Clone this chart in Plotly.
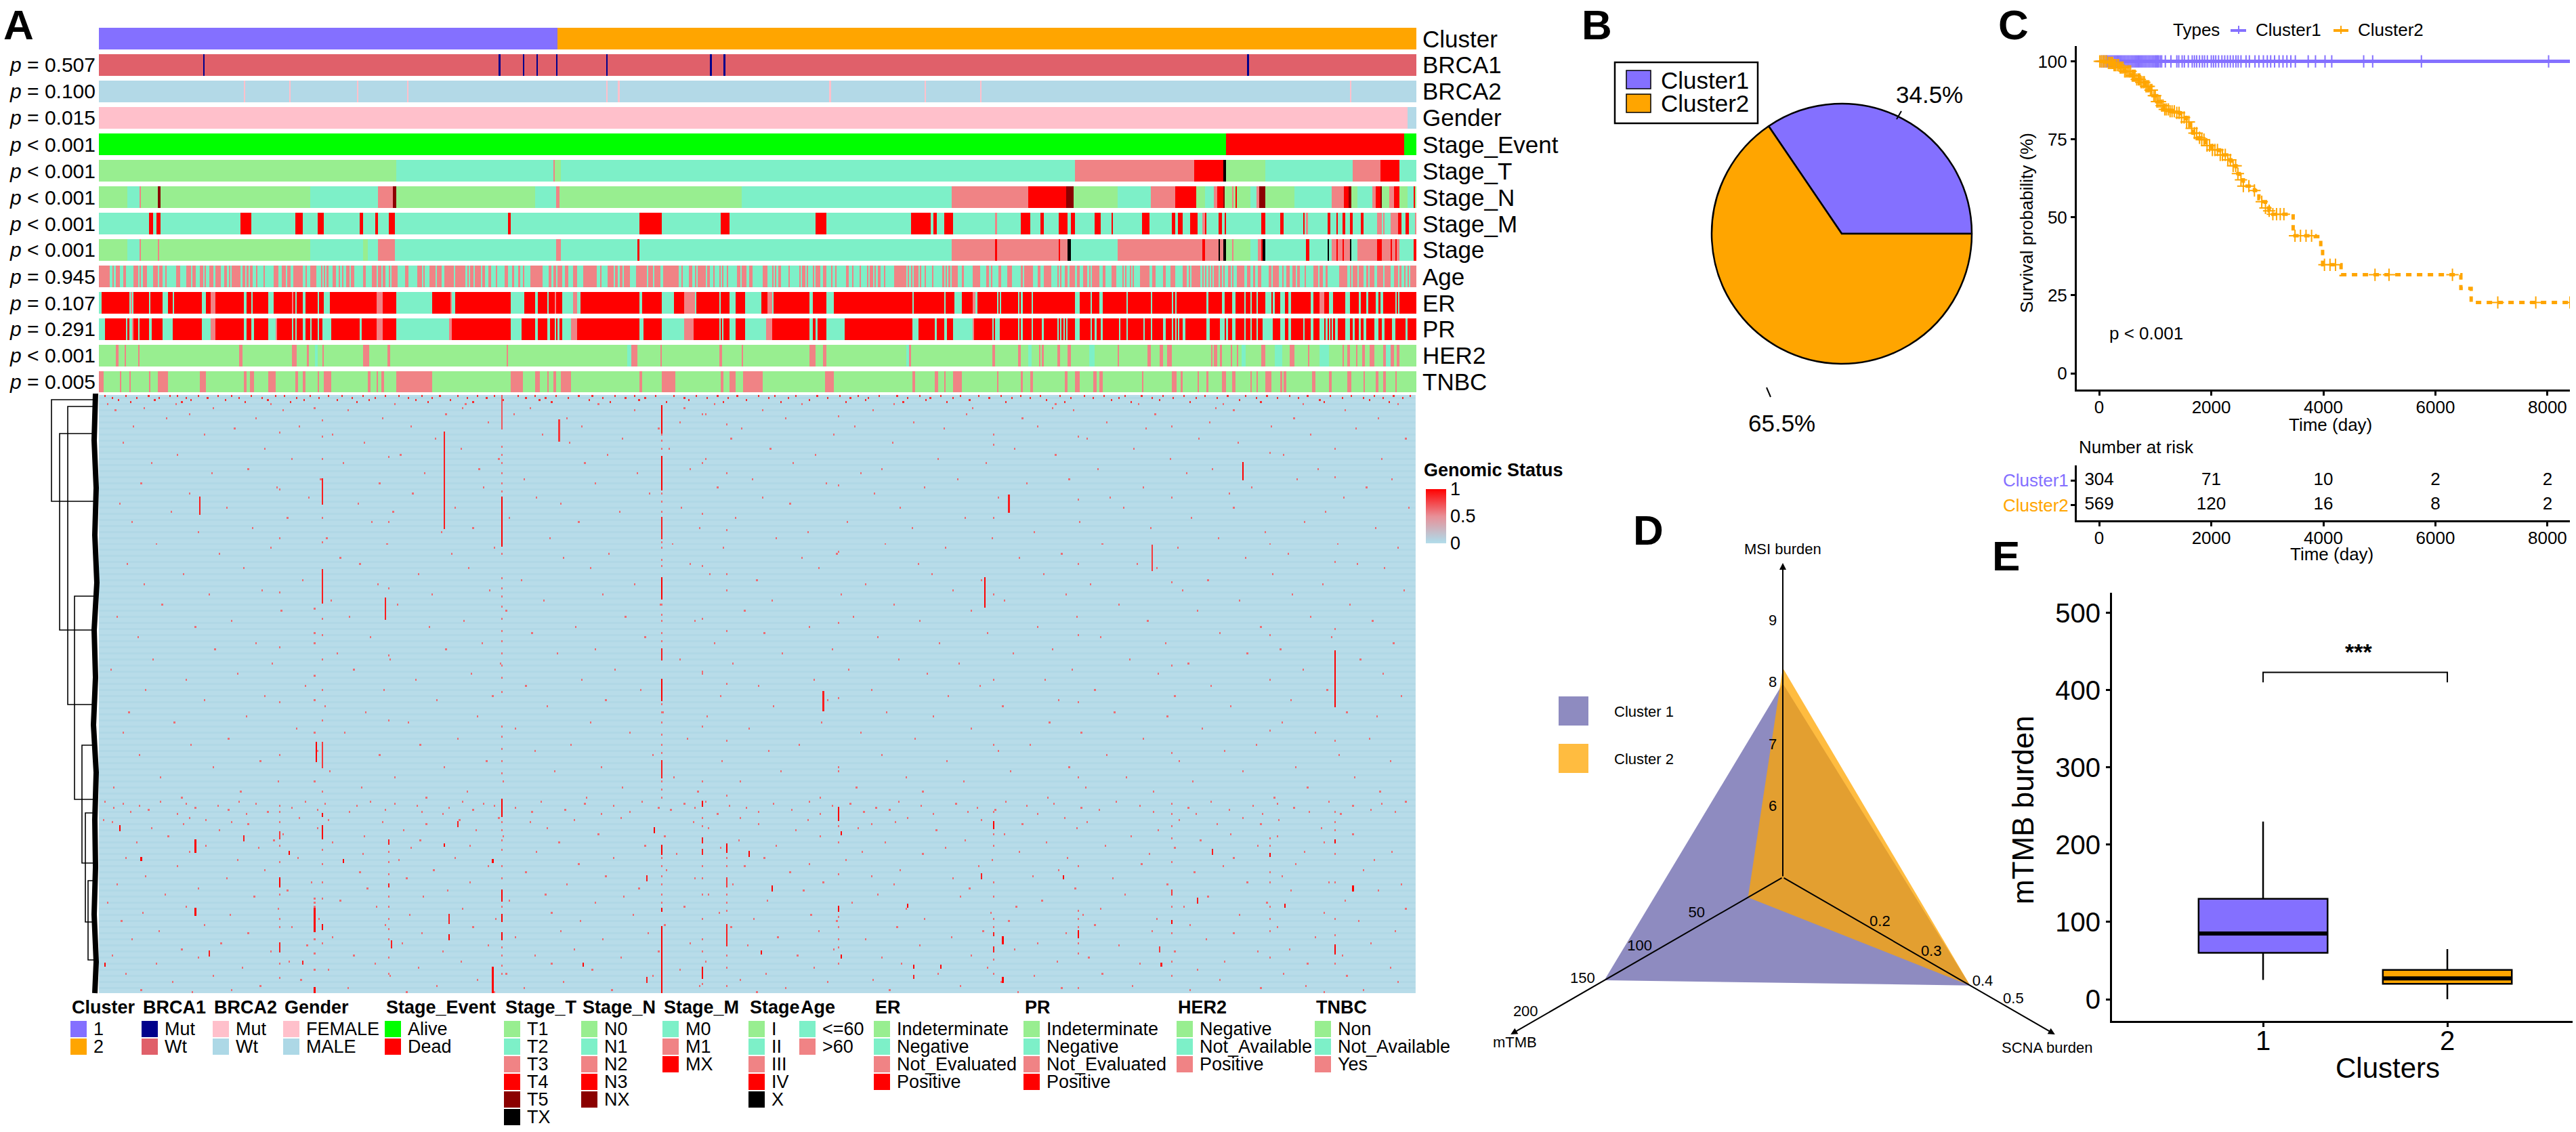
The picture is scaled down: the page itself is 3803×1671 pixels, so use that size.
import math
import numpy as np
import plotly.graph_objects as go

W, H = 3803, 1671
FONT = "Liberation Sans"
N_SAMPLES = 873
N_ROWS = 295
READ_PER_SAMPLE = 5835 / N_SAMPLES
CROP = 1470

GREEN, AQUA, CORAL, RED, DARK, BLACK = "#98EE90", "#7DF0C8", "#F08385", "#FF0000", "#8B0000", "#000000"
PURPLE, ORANGE = "#8470FF", "#FFA500"

# ---- annotation tracks (readings, four strips of the picture) ----
STAGE_T_RUNS = [
    [(0, 0, 1318), (1, 1318, 1470)],
    [(1, 0, 1470), (2, 548, 553), (0, 553, 573)],
    [(1, 0, 1387), (2, 1387, 1470)],
    [(2, 0, 448), (3, 448, 572), (5, 572, 584), (0, 584, 757), (1, 757, 1148), (2, 1148, 1267), (5, 1267, 1270), (3, 1270, 1352), (5, 1352, 1358), (1, 1358, 1425)],
]
STAGE_N_RUNS = [
    [(0, 0, 132), (1, 132, 186), (2, 186, 191), (0, 191, 266), (4, 266, 279), (0, 279, 936), (1, 936, 1238), (2, 1238, 1306), (4, 1306, 1318), (0, 1318, 1470)],
    [(0, 0, 462), (1, 462, 561), (2, 561, 573), (0, 573, 1384), (1, 1384, 1470)],
    [(1, 0, 842), (2, 842, 1182), (3, 1182, 1350), (4, 1350, 1380), (0, 1380, 1470)],
    [(0, 0, 107), (1, 107, 250), (2, 250, 356), (3, 356, 454), (0, 454, 490), (1, 490, 530), (2, 530, 545), (3, 545, 572), (4, 572, 578), (0, 578, 610), (2, 610, 620), (0, 620, 628), (3, 628, 633), (0, 633, 695), (1, 695, 720), (2, 720, 733), (4, 733, 757), (0, 757, 886), (1, 886, 1056), (2, 1056, 1110), (3, 1110, 1130), (4, 1130, 1141), (0, 1141, 1166), (1, 1166, 1235), (2, 1235, 1248), (3, 1248, 1265), (4, 1265, 1272), (0, 1272, 1308), (2, 1308, 1328), (3, 1328, 1358), (0, 1358, 1390), (1, 1390, 1412), (3, 1412, 1420), (0, 1420, 1425)],
]
STAGE_M_RUNS = [
    [(2, 222, 242), (2, 260, 273), (2, 632, 675), (2, 873, 903), (2, 972, 996), (2, 1158, 1170), (2, 1226, 1238), (2, 1288, 1312)],
    [(2, 343, 356), (2, 925, 1024), (2, 1290, 1327)],
    [(2, 235, 279), (2, 657, 743), (2, 761, 769), (2, 804, 840), (1, 1035, 1038), (2, 1146, 1182), (2, 1232, 1244), (2, 1317, 1349), (2, 1366, 1387)],
    [(2, 3, 27), (2, 78, 84), (2, 213, 244), (2, 343, 355), (2, 374, 387), (2, 423, 454), (1, 480, 486), (2, 491, 497), (2, 553, 560), (2, 578, 585), (2, 743, 758), (2, 826, 838), (2, 924, 930), (1, 942, 946), (2, 1034, 1042), (2, 1075, 1080), (2, 1103, 1110), (2, 1135, 1141), (2, 1179, 1191), (1, 1255, 1272), (1, 1278, 1284), (1, 1316, 1330), (1, 1335, 1345), (2, 1350, 1358), (2, 1383, 1390), (1, 1420, 1425)],
]
STAGE_RUNS = [
    [(0, 0, 132), (1, 132, 186), (2, 186, 191), (0, 191, 266), (2, 266, 272), (0, 272, 936), (1, 936, 1170), (0, 1170, 1196), (1, 1196, 1238), (2, 1238, 1311), (1, 1311, 1470)],
    [(1, 0, 1470), (2, 561, 573), (3, 918, 925)],
    [(1, 0, 842), (2, 842, 1352), (3, 1035, 1038), (3, 1313, 1317), (4, 1356, 1366), (1, 1366, 1470)],
    [(1, 0, 107), (2, 107, 553), (3, 480, 486), (4, 553, 560), (2, 560, 572), (4, 572, 584), (0, 584, 610), (2, 610, 620), (0, 620, 695), (1, 695, 725), (2, 725, 740), (3, 740, 745), (4, 745, 757), (1, 757, 1033), (3, 943, 949), (4, 1033, 1042), (1, 1042, 1056), (2, 1056, 1138), (3, 1075, 1080), (3, 1100, 1105), (4, 1135, 1141), (1, 1141, 1166), (2, 1166, 1355), (3, 1255, 1272), (3, 1314, 1320), (3, 1332, 1340), (4, 1352, 1358), (1, 1358, 1414), (3, 1414, 1425)],
]
AGE_OVER60 = [
    [(0, 50), (62, 70), (75, 93), (113, 122), (156, 174), (186, 190), (197, 204), (210, 216), (242, 260), (272, 278), (296, 303), (347, 359), (390, 408), (416, 426), (452, 458), (470, 476), (489, 507), (520, 530), (534, 544), (558, 570), (576, 582), (594, 630), (641, 648), (656, 662), (670, 680), (696, 700), (732, 736), (780, 786), (792, 798), (812, 830), (838, 848), (866, 902), (918, 922), (942, 960), (984, 990), (996, 1002), (1010, 1014), (1040, 1052), (1064, 1070), (1080, 1086), (1098, 1112), (1122, 1132), (1176, 1182), (1214, 1220), (1226, 1232), (1238, 1250), (1258, 1268), (1284, 1292), (1302, 1324), (1362, 1368), (1411, 1416), (1422, 1428), (1438, 1444)],
    [(0, 4), (8, 12), (16, 22), (30, 46), (66, 102), (108, 154), (162, 170), (180, 190), (198, 218), (234, 244), (258, 270), (288, 294), (332, 342), (362, 368), (392, 398), (412, 418), (444, 452), (458, 466), (474, 486), (490, 498), (524, 534), (548, 554), (562, 572), (580, 584), (600, 608), (630, 646), (678, 738), (752, 758), (788, 794), (802, 806), (816, 830), (840, 846), (856, 860), (866, 870), (876, 882), (912, 958), (968, 982), (990, 1016), (1032, 1040), (1046, 1074), (1080, 1096), (1110, 1116), (1150, 1154), (1174, 1180), (1188, 1214), (1230, 1234), (1256, 1260), (1278, 1284), (1292, 1298), (1312, 1320), (1358, 1372), (1384, 1390), (1396, 1400), (1415, 1425)],
    [(6, 12), (18, 22), (44, 50), (56, 62), (70, 80), (116, 122), (162, 170), (180, 186), (198, 204), (224, 228), (236, 242), (248, 254), (272, 280), (304, 310), (322, 328), (372, 384), (396, 402), (434, 438), (464, 470), (476, 490), (496, 500), (514, 524), (540, 544), (588, 594), (602, 606), (612, 620), (628, 634), (644, 650), (658, 664), (675, 692), (702, 706), (718, 722), (752, 756), (800, 804), (812, 816), (824, 828), (842, 860), (884, 890), (930, 966), (996, 1002), (1016, 1020), (1048, 1058), (1090, 1096), (1102, 1106), (1146, 1152), (1160, 1170), (1176, 1200), (1220, 1230), (1246, 1250), (1256, 1262), (1270, 1276), (1308, 1314), (1320, 1324), (1338, 1354), (1362, 1368), (1374, 1386), (1396, 1404), (1418, 1438), (1448, 1452), (1458, 1470)],
    [(4, 10), (14, 20), (40, 46), (78, 96), (122, 128), (138, 144), (156, 162), (170, 176), (208, 244), (258, 268), (306, 318), (336, 354), (394, 406), (418, 424), (432, 440), (448, 454), (462, 468), (478, 484), (490, 496), (504, 510), (518, 522), (536, 552), (560, 566), (574, 578), (594, 600), (610, 618), (634, 664), (678, 690), (706, 712), (728, 738), (772, 784), (796, 802), (808, 818), (832, 838), (856, 862), (882, 888), (898, 908), (932, 938), (976, 992), (1002, 1012), (1024, 1028), (1086, 1116), (1134, 1140), (1150, 1166), (1172, 1190), (1208, 1212), (1218, 1224), (1230, 1236), (1254, 1278), (1290, 1296), (1304, 1314), (1330, 1336), (1342, 1348), (1356, 1360), (1372, 1378), (1386, 1392), (1404, 1410), (1418, 1425)],
]
ER_POSITIVE = [
    [(18, 93), (99, 135), (156, 174), (180, 222), (229, 266), (273, 279), (309, 327), (336, 452), (477, 495), (520, 644), (656, 675), (687, 749), (780, 856), (866, 872), (880, 903), (917, 941), (947, 961), (965, 972), (978, 996), (1028, 1196), (1201, 1231), (1263, 1318)],
    [(8, 84), (114, 356), (418, 462), (480, 516), (523, 546), (556, 579), (666, 870), (876, 925), (939, 1024), (1080, 1122), (1179, 1278), (1284, 1290), (1296, 1302), (1306, 1327), (1353, 1389)],
    [(0, 18), (50, 211), (222, 279), (316, 662), (675, 768), (774, 804), (810, 847), (885, 927), (954, 1038), (1044, 1050), (1060, 1132), (1140, 1146), (1152, 1189), (1199, 1343), (1350, 1387), (1405, 1449), (1460, 1470)],
    [(0, 4), (8, 22), (35, 145), (152, 213), (221, 249), (258, 342), (350, 356), (364, 386), (393, 454), (461, 498), (504, 528), (534, 565), (579, 609), (628, 664), (672, 690), (697, 714), (727, 757), (784, 790), (797, 826), (850, 856), (876, 888), (893, 957), (975, 1000), (1018, 1040), (1062, 1110), (1135, 1141), (1148, 1172), (1178, 1190), (1196, 1202), (1215, 1247), (1260, 1266), (1278, 1284), (1290, 1333), (1342, 1348), (1355, 1425)],
]
ER_NOT_EVALUATED = [
    [(143, 150), (495, 520), (856, 866), (1232, 1258)],
    [(84, 96), (546, 556), (630, 652), (870, 876), (1122, 1167)],
    [(18, 44), (927, 940)],
    [(1000, 1018)],
]
PR_POSITIVE = [
    [(31, 93), (99, 123), (129, 135), (156, 174), (186, 222), (236, 254), (260, 266), (272, 279), (329, 452), (520, 644), (656, 675), (693, 749), (792, 856), (866, 872), (880, 903), (917, 935), (947, 960), (965, 972), (978, 990), (1034, 1158), (1164, 1195), (1202, 1231), (1263, 1287), (1296, 1318)],
    [(96, 356), (406, 462), (480, 516), (529, 546), (556, 562), (570, 579), (654, 870), (876, 894), (900, 925), (945, 1024), (1167, 1278), (1284, 1290), (1303, 1327), (1353, 1389)],
    [(44, 211), (222, 234), (242, 279), (365, 662), (693, 762), (774, 804), (823, 842), (942, 1020), (1026, 1032), (1053, 1132), (1140, 1146), (1152, 1189), (1200, 1236), (1246, 1304), (1312, 1320), (1326, 1332), (1338, 1342), (1356, 1368), (1374, 1387), (1411, 1449), (1462, 1470)],
    [(14, 28), (35, 108), (120, 144), (152, 213), (225, 249), (258, 300), (318, 342), (350, 356), (364, 372), (380, 386), (405, 454), (461, 498), (510, 528), (534, 556), (578, 584), (590, 609), (628, 664), (672, 690), (697, 715), (727, 745), (792, 826), (850, 858), (876, 888), (893, 927), (933, 957), (975, 1000), (1018, 1024), (1032, 1036), (1046, 1054), (1062, 1066), (1080, 1110), (1135, 1141), (1153, 1172), (1184, 1190), (1208, 1240), (1260, 1272), (1290, 1320), (1338, 1350), (1356, 1380), (1388, 1425)],
]
PR_NOT_EVALUATED = [
    [(150, 154), (495, 520), (785, 792), (1232, 1258)],
    [(84, 96), (624, 654), (1124, 1167)],
    [(18, 44), (930, 942)],
    [],
]
HER2_RUNS = [
    [(2, 80, 87), (2, 117, 123), (2, 174, 180), (2, 626, 632), (2, 862, 873), (2, 924, 929), (1, 960, 972), (2, 990, 996), (2, 1176, 1194), (2, 1282, 1288)],
    [(2, 338, 342), (1, 870, 895), (2, 895, 917), (2, 1018, 1024), (2, 1278, 1290), (2, 1378, 1384)],
    [(2, 210, 234), (2, 272, 279), (1, 640, 650), (2, 650, 656), (2, 1021, 1032), (2, 1134, 1144), (1, 1180, 1190), (2, 1227, 1232), (2, 1238, 1243), (2, 1306, 1318), (2, 1356, 1367), (1, 1446, 1470)],
    [(2, 102, 107), (2, 238, 248), (2, 295, 300), (2, 323, 342), (2, 516, 522), (2, 534, 540), (2, 558, 566), (2, 604, 610), (2, 630, 636), (1, 650, 670), (2, 740, 757), (1, 800, 830), (2, 870, 882), (2, 945, 950), (1, 1000, 1035), (2, 1100, 1105), (2, 1122, 1128), (2, 1160, 1166), (2, 1190, 1196), (2, 1222, 1228), (2, 1234, 1240), (2, 1280, 1290), (1, 1295, 1312), (2, 1316, 1325), (2, 1342, 1350)],
]
TNBC_YES = [
    [(0, 18), (94, 100), (137, 143), (224, 230), (266, 272), (279, 309), (453, 477), (645, 657), (675, 687), (750, 780), (873, 879), (906, 914), (972, 979), (996, 1026), (1196, 1202), (1232, 1238), (1256, 1262), (1320, 1470)],
    [(0, 8), (356, 405), (462, 480), (517, 523), (548, 554), (579, 621), (925, 937), (1025, 1086), (1290, 1296), (1328, 1352), (1390, 1470)],
    [(279, 315), (663, 675), (768, 774), (804, 810), (848, 885), (1040, 1046), (1146, 1152), (1188, 1194), (1344, 1350), (1387, 1404)],
    [(0, 6), (28, 34), (212, 218), (344, 350), (354, 360), (386, 392), (458, 462), (498, 504), (568, 580), (610, 620), (690, 696), (720, 726), (758, 782), (826, 832), (840, 850), (964, 975), (1044, 1050), (1118, 1124), (1130, 1136), (1192, 1198), (1250, 1260), (1284, 1290), (1334, 1340)],
]
BRCA1_MUT_SAMPLES = [69, 265, 281, 290, 303, 336, 405, 414, 761]
BRCA2_MUT_SAMPLES = [96, 126, 171, 204, 336, 344, 484, 547, 584, 829]
CLUSTER_SPLIT = 304
EVENT_DEAD = (747, 865)
GENDER_MALE_FROM = 867

P_LABELS = ["", "= 0.507", "= 0.100", "= 0.015", "&lt; 0.001", "&lt; 0.001", "&lt; 0.001", "&lt; 0.001", "&lt; 0.001",
            "= 0.945", "= 0.107", "= 0.291", "&lt; 0.001", "= 0.005"]
TRACK_NAMES = ["Cluster", "BRCA1", "BRCA2", "Gender", "Stage_Event", "Stage_T", "Stage_N", "Stage_M", "Stage",
               "Age", "ER", "PR", "HER2", "TNBC"]

# ---- genomic heatmap: (column, first row, last row, value) ----
STREAKS = [
    (373, 5, 18, 1), (373, 30, 46, 1), (373, 60, 70, .9), (373, 90, 100, 1), (373, 125, 130, .9), (373, 140, 150, 1), (373, 180, 188, .9),
    (373, 222, 226, 1), (373, 253, 254, 1), (373, 262, 295, 1),
    (267, 0, 16, .7), (267, 50, 74, 1), (267, 199, 207, 1), (267, 244, 249, 1), (267, 256, 259, 1), (267, 265, 268, 1),
    (229, 18, 65, .9), (148, 41, 53, .9), (148, 86, 102, .9), (148, 171, 183, .8), (148, 206, 207, 1), (148, 212, 218, 1), (148, 261, 263, 1),
    (144, 171, 180, 1), (143, 253, 264, 1), (143, 292, 295, 1), (587, 90, 104, 1), (819, 126, 153, 1), (819, 219, 220, 1), (819, 271, 275, 1),
    (758, 33, 41, 1), (603, 49, 57, .9), (480, 146, 155, .9), (698, 74, 86, .8), (67, 50, 58, .9), (305, 12, 22, .8), (190, 100, 110, .9),
    (64, 219, 225, 1), (64, 253, 256, 1), (120, 238, 242, 1), (120, 270, 274, .9), (120, 215, 218, .8), (192, 219, 221, .9), (192, 241, 242, .9),
    (261, 282, 295, 1), (261, 229, 230, 1), (232, 256, 260, .9), (232, 266, 268, 1), (194, 269, 272, .9), (96, 217, 219, .9), (238, 210, 212, .9), (14, 212, 214, 1),
    (368, 213, 215, 1), (363, 237, 239, .9), (363, 287, 289, .9), (229, 221, 222, 1), (321, 280, 281, 1), (73, 274, 276, .9), (135, 279, 280, .9), (4, 280, 281, 1),
    (28, 228, 229, 1), (162, 229, 230, 1), (126, 225, 226, 1), (400, 282, 287, 1), (400, 200, 202, 1), (400, 224, 226, .9), (400, 218, 220, .9),
    (490, 203, 209, 1), (490, 252, 254, 1), (593, 210, 213, 1), (593, 265, 266, .9), (593, 272, 274, .9), (416, 221, 225, 1), (416, 261, 271, .9), (416, 238, 242, .8),
    (431, 225, 227, 1), (446, 242, 244, 1), (536, 251, 252, 1), (558, 281, 282, 1), (599, 267, 270, 1), (599, 287, 289, 1), (649, 264, 267, 1), (639, 237, 238, 1),
    (585, 236, 238, .9), (738, 224, 226, .9), (711, 259, 260, 1), (711, 244, 246, .8), (728, 248, 250, .9), (704, 280, 281, .9), (703, 272, 274, .8), (776, 226, 227, 1),
    (786, 251, 252, 1), (831, 242, 244, 1), (540, 281, 282, 1), (540, 286, 287, .9), (492, 215, 216, 1), (492, 276, 277, 1), (439, 274, 275, 1),
]
# faint columns: gene columns that are dashed with pale marks, (column, [rows])
FAINT_COLUMNS = {
    373: [19, 22, 26, 48, 52, 57, 72, 75, 81, 84, 103, 108, 111, 117, 121, 152, 156, 161, 167, 172, 176, 190, 194, 198, 228, 232, 237, 241, 246, 250],
    267: [25, 29, 33, 38, 43, 47, 78, 90, 95, 99, 104, 110, 116, 121, 127, 133, 139, 146, 163, 168, 174, 180, 186, 210, 214, 219, 224, 232, 238, 252, 272, 276, 281, 285],
    148: [12, 20, 31, 60, 72, 110, 118, 130, 145, 160, 195, 224, 231, 240, 248, 270],
    143: [105, 122, 138, 150, 166, 190, 248, 250, 252, 268, 275, 283],
    120: [18, 46, 70, 97, 124, 151, 177, 205, 210, 222, 230, 246, 258, 262, 280, 287],
    416: [14, 38, 66, 88, 116, 142, 170, 197, 228, 232, 246, 250, 254, 276, 282, 291],
    400: [9, 33, 58, 84, 110, 136, 163, 190, 208, 212, 232, 238, 246, 258, 268, 274, 290],
    192: [30, 62, 95, 128, 160, 225, 230, 236, 247, 252, 258, 263, 268, 277, 285],
    593: [24, 60, 98, 140, 172, 205, 216, 222, 240, 247, 258, 262, 278, 285],
    649: [20, 51, 83, 118, 151, 188, 232, 254, 258, 262, 270, 275, 292],
    490: [10, 44, 77, 112, 149, 185, 212, 220, 236, 257, 262, 268, 272, 280],
    711: [15, 50, 92, 133, 176, 206, 212, 218, 230, 252, 265, 279, 286],
    776: [28, 73, 118, 165, 218, 222, 235, 240, 252, 258, 264, 277],
    819: [40, 82, 115, 170, 205, 214, 226, 240, 258, 266, 280],
}
DOT_ROWS_TOP = {
    0: [4, 18, 33, 47, 52, 66, 79, 88, 101, 117, 123, 140, 152, 161, 175, 190, 199, 214, 226, 238, 251, 262, 278, 289, 303, 318, 327, 342, 355, 369, 381, 396, 410, 423, 437, 448, 462, 476, 491, 503, 517, 529, 544, 558, 571, 583, 598, 611, 624, 637, 653, 666, 680, 691, 705, 719, 733, 748, 760, 774, 789, 801, 816, 830, 845, 858, 869],
    1: [9, 25, 40, 58, 72, 93, 108, 131, 146, 168, 183, 205, 221, 244, 257, 283, 296, 311, 334, 349, 362, 388, 403, 417, 444, 457, 483, 498, 510, 536, 551, 566, 590, 605, 617, 644, 659, 676, 698, 712, 727, 741, 767, 781, 795, 824, 838, 851, 864],
    2: [13, 37, 61, 84, 112, 136, 158, 179, 210, 233, 268, 292, 325, 358, 391, 429, 471, 508, 548, 577, 628, 671, 703, 756, 809, 842],
    3: [21, 55, 97, 127, 171, 218, 248, 300, 339, 376, 414, 452, 495, 533, 562, 601, 640, 684, 723, 770, 812, 855],
}
DOT_ROWS = {
    4: [6, 51, 114, 196, 243, 331, 408, 466, 527, 634, 689, 745, 798, 861],
    6: [30, 76, 143, 241, 286, 388, 579, 632, 740],
    7: [11, 122, 165, 355, 440, 513, 646, 752, 826],
    9: [60, 230, 275, 402, 575, 700],
    11: [45, 104, 188, 310, 455, 612, 792, 848],
    13: [258, 385, 540, 668, 736],
    15: [23, 133, 207, 320, 501, 622, 777],
    16: [90, 371, 426, 560, 694, 833],
    19: [70, 155, 294, 487, 593, 803],
    21: [223, 347, 419, 655, 729, 866],
    23: [16, 176, 312, 526, 755],
    26: [110, 240, 378, 445, 607, 686, 819],
    29: [52, 200, 337, 475, 634, 785],
    31: [128, 265, 402, 556, 710, 850],
    33: [35, 162, 322, 460, 588],
    36: [99, 252, 392, 519, 662, 738, 808],
    38: [75, 216, 357, 505, 721],
    41: [147, 282, 433, 569, 643, 794, 857],
    43: [28, 186, 329, 482, 615],
    45: [118, 255, 410, 547, 692, 764, 840],
    48: [60, 208, 365, 514, 749],
    50: [139, 290, 440, 596, 670, 825],
    53: [14, 172, 306, 458, 603],
    55: [85, 236, 386, 531, 679, 752, 868],
    57: [48, 195, 345, 813],
    60: [125, 272, 422, 574, 724],
    62: [22, 181, 318, 496, 650, 799],
    65: [102, 248, 398, 539, 697, 846],
    67: [66, 227, 470, 620, 773],
    70: [151, 299, 449, 592, 742],
    73: [38, 191, 380, 521, 665, 821],
    75: [114, 262, 414, 561, 715, 861],
    78: [80, 234, 338, 489, 638, 788],
    80: [160, 308, 466, 610, 760],
    83: [19, 173, 392, 543, 688, 834],
    85: [96, 245, 326, 477, 701, 852],
    88: [56, 212, 405, 552, 626, 778],
    91: [135, 280, 436, 585, 735],
    93: [30, 185, 355, 508, 657, 811],
    96: [108, 259, 416, 566, 718, 865],
    98: [73, 221, 334, 492, 641, 791],
    101: [154, 295, 446, 600, 756],
    103: [42, 198, 372, 527, 676, 829],
    106: [121, 270, 428, 578, 728],
    109: [12, 166, 349, 500, 648, 803],
    111: [88, 242, 395, 544, 695, 844],
    114: [64, 219, 316, 471, 622, 770],
    117: [143, 287, 441, 589, 743],
    119: [26, 180, 362, 516, 664, 817],
    122: [104, 254, 408, 557, 707, 858],
    125: [77, 230, 329, 486, 632, 783],
    127: [158, 304, 453, 606, 761],
    130: [36, 193, 385, 530, 683, 836],
    132: [115, 266, 420, 570, 722],
    135: [8, 169, 342, 497, 645, 798],
    137: [92, 247, 400, 549, 702, 851],
    140: [58, 210, 320, 474, 627, 776],
    143: [137, 283, 437, 584, 737],
    145: [31, 189, 359, 512, 660, 814],
    148: [110, 261, 412, 563, 713, 863],
    150: [70, 224, 336, 483, 636, 790],
    153: [150, 297, 447, 599, 750],
    156: [20, 177, 374, 522, 673, 827],
    158: [98, 251, 403, 553, 708, 847],
    161: [50, 205, 326, 479, 630, 784],
    164: [131, 276, 431, 578, 731],
    166: [16, 163, 352, 505, 651, 806],
    169: [86, 238, 390, 541, 692, 842],
    172: [61, 213, 313, 464, 617, 767],
    175: [145, 289, 444, 596, 746],
    177: [27, 186, 367, 519, 668, 822],
    180: [107, 257, 413, 562, 716, 856],
    183: [76, 229, 333, 490, 643, 793],
    185: [153, 302, 452, 604, 758],
    188: [41, 196, 381, 535, 681, 832],
    190: [119, 268, 425, 573, 725],
    193: [10, 174, 347, 502, 654, 801],
    195: [94, 244, 397, 546, 699, 849],
    198: [55, 217, 323, 478, 629, 779],
    200: [4, 41, 93, 137, 180, 241, 293, 360, 402, 471, 530, 601, 674, 737, 815, 866],
    201: [16, 58, 104, 150, 196, 255, 322, 388, 447, 498, 568, 633, 711, 781, 850],
    202: [27, 79, 120, 171, 211, 262, 341, 418, 486, 545, 615, 690, 765, 831],
    203: [10, 64, 128, 232, 276, 371, 395, 429, 515, 582, 651, 722, 792],
    204: [33, 86, 145, 190, 248, 309, 379, 459, 524, 594, 663, 749, 843],
    205: [21, 112, 166, 214, 287, 352, 437, 507, 576, 699, 802, 859],
    206: [52, 98, 228, 333, 410, 478, 553, 622, 727, 771, 823],
    208: [60, 133, 265, 346, 425, 536, 640, 758],
    209: [3, 71, 152, 239, 315, 470, 585, 716, 782],
    210: [9, 88, 188, 286, 394, 528, 655, 819],
    211: [56, 99, 217, 437, 512, 612, 741, 770],
    213: [35, 145, 297, 404, 503, 648, 810],
    214: [80, 202, 250, 462, 555, 702],
    216: [122, 331, 600, 750, 831],
    217: [46, 176, 268, 375, 478, 684, 781],
    219: [116, 213, 424, 574, 730],
    220: [25, 155, 305, 521, 628, 812],
    222: [71, 246, 362, 449, 667, 768],
    223: [106, 207, 412, 561, 713],
    225: [60, 290, 506, 610, 799, 857],
    226: [175, 383, 546, 696],
    228: [18, 132, 236, 341, 441, 642, 752],
    229: [92, 199, 495, 592, 845],
    231: [148, 318, 471, 691, 793],
    232: [52, 258, 428, 583, 745],
    234: [110, 222, 376, 531, 636, 838],
    235: [173, 283, 458, 726],
    237: [31, 336, 512, 619, 784],
    238: [85, 204, 395, 566, 672],
    240: [141, 246, 480, 761, 815],
    241: [12, 310, 420, 527, 708, 863],
    243: [66, 178, 358, 577, 647],
    244: [125, 231, 467, 790, 848],
    246: [44, 296, 404, 516, 680],
    247: [103, 215, 348, 571, 735],
    249: [160, 272, 443, 625, 826],
    250: [6, 329, 499, 774],
    252: [58, 184, 388, 608, 719],
    253: [119, 241, 535, 664, 866],
    255: [29, 300, 411, 591, 812],
    256: [87, 206, 354, 472, 652, 756],
    258: [146, 263, 434, 547, 701],
    259: [15, 319, 489, 603, 835],
    261: [70, 190, 375, 660, 723],
    262: [128, 248, 419, 529, 781],
    264: [40, 306, 477, 586, 698, 859],
    265: [99, 214, 364, 641, 752],
    267: [155, 276, 450, 565, 806],
    268: [22, 334, 508, 734],
    270: [81, 201, 392, 622, 843],
    271: [138, 258, 430, 544, 676],
    273: [55, 315, 487, 607, 789],
    274: [114, 228, 371, 713, 768],
    276: [9, 169, 289, 463, 578, 824],
    277: [66, 346, 519, 656],
    279: [126, 240, 402, 635, 746],
    280: [38, 183, 300, 532, 690, 801],
    282: [95, 212, 474, 589, 856],
    283: [152, 327, 385, 728],
    285: [18, 270, 442, 556, 665, 785],
    286: [76, 193, 367, 620, 827],
    288: [134, 251, 425, 513, 743],
    289: [49, 308, 483, 598, 861],
    291: [107, 224, 398, 571, 685, 800],
    292: [165, 282, 455, 638, 770],
    293: [28, 88, 340, 524, 723, 838],
    294: [62, 204, 262, 436, 609, 812],
}
DOT_VALUE = 0.62
TOP_DOT_VALUE = 0.85
# background banding rows seen across the heatmap
BAND_ROWS = list(range(1, N_ROWS, 3))
BAND_VALUE = 0.04

# ---- dendrogram: (depth x, top, bottom) brackets ----
DENDRO_BRACKETS = [(76, 590, 740), (88, 640, 930), (100, 600, 1040), (110, 880, 1180), (121, 1100, 1274), (126, 1200, 1361), (130, 1300, 1417)]
DENDRO_TRUNK_X = [141, 139, 142, 140, 143, 139, 141, 138, 142, 140, 141, 139, 142, 140]
DENDRO_TRUNK_Y = [581, 650, 720, 790, 860, 930, 1000, 1070, 1140, 1210, 1280, 1350, 1420, 1466]

# ---- pie ----
PIE_LABELS = ["Cluster1", "Cluster2"]
PIE_VALUES = [34.5, 65.5]

# ---- survival ----
C2_T = [0, 150, 250, 368, 450, 566, 650, 730, 820, 895, 960, 1026, 1090, 1158, 1260, 1355, 1450, 1553, 1620, 1684, 1750, 1816, 1900, 2013, 2150, 2276, 2350, 2441, 2500, 2572, 2770, 2850, 2901, 2967, 3033, 3099, 3461, 3855, 3954, 3987, 4316, 6454, 6638, 8400]
C2_S = [100, 99.5, 98.8, 98, 96.8, 95.4, 94.2, 93.3, 92, 90.8, 89, 87.1, 85.8, 84.6, 84, 83.5, 82, 80.6, 78.5, 77, 75.5, 74.9, 73, 71.6, 70, 68.4, 66.5, 64, 62, 60, 58.6, 56, 55, 53, 52.1, 51, 44.1, 43.8, 40.2, 34.8, 31.6, 27.2, 22.7, 22.7]
C2_CENSOR = [10, 40, 70, 100, 130, 165, 190, 215, 240, 265, 290, 320, 345, 375, 400, 425, 455, 480, 510, 535, 560, 590, 615, 640, 670, 700, 725, 750, 780, 805, 835, 860, 885, 915, 940, 975, 1000, 1030, 1055, 1085, 1115, 1140, 1170, 1200, 1235, 1265, 1300, 1340, 1385, 1425, 1470, 1515, 1560, 1600, 1650, 1700, 1740, 1790, 1830, 1870, 1925, 1970, 2020, 2065, 2110, 2160, 2200, 2250, 2295, 2340, 2390, 2435, 2475, 2530, 2572, 2671, 2770, 2901, 2967, 3033, 3099, 3165, 3231, 3296, 3494, 3592, 3691, 3790, 4020, 4119, 4217, 4922, 5172, 6304, 7113, 7791, 8400]
C1_T = [0, 8400]
C1_S = [100, 100]
C1_CENSOR = [40, 70, 100, 125, 150, 175, 200, 225, 250, 275, 300, 325, 350, 375, 400, 425, 450, 475, 500, 525, 550, 575, 600, 625, 650, 675, 700, 725, 750, 775, 800, 825, 850, 875, 900, 925, 950, 975, 1000, 1020, 1040, 1060, 1090, 1115, 1180, 1280, 1385, 1420, 1480, 1520, 1590, 1660, 1700, 1740, 1790, 1840, 1880, 1930, 2000, 2040, 2080, 2130, 2190, 2240, 2290, 2340, 2390, 2440, 2480, 2530, 2620, 2680, 2780, 2850, 2930, 3000, 3060, 3130, 3210, 3280, 3350, 3420, 3500, 3730, 3860, 4030, 4150, 4720, 4880, 5750, 8020]
TICK_TIME = [0, 2000, 4000, 6000, 8000]
TICK_SURV = [0, 25, 50, 75, 100]
RISK_C1 = [304, 71, 10, 2, 2]
RISK_C2 = [569, 120, 16, 8, 2]

# ---- radar ----
RADAR_AXES = ["MSI burden", "mTMB", "SCNA burden"]
RADAR_C1 = [8.0, 144, 0.385]
RADAR_C2 = [8.25, 18, 0.385]
RADAR_TICKS = [[6, 7, 8, 9], [50, 100, 150, 200], [0.2, 0.3, 0.4, 0.46]]
RADAR_TICK_LABELS = [["6", "7", "8", "9"], ["50", "100", "150", "200"], ["0.2", "0.3", "0.4", "0.5"]]

# ---- box ----
BOX_X = [1, 2]
BOX_LOW = [25, 0]
BOX_Q1 = [60, 20]
BOX_MED = [85, 27]
BOX_Q3 = [130, 38]
BOX_HIGH = [230, 65]
TICK_MTMB = [0, 100, 200, 300, 400, 500]


# ---- helpers ----
def px(x):
    return x / W


def py(y):
    return 1 - y / H


def samples(base):
    return [base] * N_SAMPLES


def paint(z, crops, cat=None):
    for i, runs in enumerate(crops):
        for run in runs:
            c, a, b = run if cat is None else (cat, run[0], run[1])
            s0 = int((a + i * CROP) / READ_PER_SAMPLE)
            s1 = max(s0 + 1, int(round((b + i * CROP) / READ_PER_SAMPLE)))
            for s in range(s0, min(s1, N_SAMPLES)):
                z[s] = c
    return z


def marks(base, cat, idx):
    z = samples(base)
    for s in idx:
        z[s] = cat
    return z


def segment(base, cat, a, b):
    z = samples(base)
    for s in range(a, b):
        z[s] = cat
    return z


fig = go.Figure()
annotations, shapes = [], []


def text(x, y, s, size=27, anchor="left", color="black", bold=False, angle=0, yanchor="middle"):
    annotations.append(dict(x=px(x), y=py(y), xref="paper", yref="paper", text=f"<b>{s}</b>" if bold else s,
                            showarrow=False, xanchor=anchor, yanchor=yanchor, textangle=angle,
                            font=dict(family=FONT, size=size, color=color)))


def rect(x0, y0, x1, y1, fill, line=None, lw=0):
    shapes.append(dict(type="rect", xref="paper", yref="paper", x0=px(x0), x1=px(x1), y0=py(y1), y1=py(y0),
                       fillcolor=fill, line=dict(color=line or fill, width=lw)))


# ---- tracks ----
TRACK_TOP, TRACK_PITCH, TRACK_H = 41, 39, 32
tracks = [
    (segment(0, 1, CLUSTER_SPLIT, N_SAMPLES), [PURPLE, ORANGE]),
    (marks(1, 0, BRCA1_MUT_SAMPLES), ["#00008B", "#E0606A"]),
    (marks(1, 0, BRCA2_MUT_SAMPLES), ["#FFC0CB", "#B3D9E7"]),
    (segment(0, 1, GENDER_MALE_FROM, N_SAMPLES), ["#FFC0CB", "#B3D9E7"]),
    (segment(0, 1, *EVENT_DEAD), ["#00FF00", RED]),
    (paint(samples(0), STAGE_T_RUNS), [GREEN, AQUA, CORAL, RED, DARK, BLACK]),
    (paint(samples(0), STAGE_N_RUNS), [GREEN, AQUA, CORAL, RED, DARK]),
    (paint(samples(0), STAGE_M_RUNS), [AQUA, CORAL, RED]),
    (paint(samples(1), STAGE_RUNS), [GREEN, AQUA, CORAL, RED, BLACK]),
    (paint(samples(0), AGE_OVER60, 1), [AQUA, CORAL]),
    (paint(paint(samples(0), ER_NOT_EVALUATED, 1), ER_POSITIVE, 2), [AQUA, CORAL, RED]),
    (paint(paint(samples(0), PR_NOT_EVALUATED, 1), PR_POSITIVE, 2), [AQUA, CORAL, RED]),
    (paint(samples(0), HER2_RUNS), [GREEN, AQUA, CORAL]),
    (paint(samples(0), TNBC_YES, 2), [GREEN, AQUA, CORAL]),
]
edges = list(range(N_SAMPLES + 1))
for i, (z, pal) in enumerate(tracks):
    top = TRACK_TOP + i * TRACK_PITCH
    n = len(pal)
    fig.add_trace(go.Heatmap(z=[z], x=edges, y=[top, top + TRACK_H], xaxis="x", yaxis="y", zmin=0, zmax=n - 1,
                             colorscale=[[k / (n - 1), c] for k, c in enumerate(pal)], showscale=False, hoverinfo="skip"))
    text(2098, top + TRACK_H / 2, TRACK_NAMES[i], size=35)
    if P_LABELS[i]:
        text(143, top + TRACK_H / 2, f"<i>p</i> {P_LABELS[i]}", size=30, anchor="right")

# ---- genomic heatmap ----
grid = np.zeros((N_ROWS, N_SAMPLES))
grid[BAND_ROWS, :] = BAND_VALUE
for row, cols in DOT_ROWS.items():
    for c in cols:
        grid[row, c] = max(grid[row, c], DOT_VALUE)
for row, cols in DOT_ROWS_TOP.items():
    for c in cols:
        grid[row, c] = max(grid[row, c], TOP_DOT_VALUE)
for c, rows in FAINT_COLUMNS.items():
    for r in rows:
        grid[r, c] = max(grid[r, c], DOT_VALUE)
for c, r0, r1, v in STREAKS:
    grid[r0:r1 + 1, c] = np.maximum(grid[r0:r1 + 1, c], v)
fig.add_trace(go.Heatmap(
    z=grid.tolist(), xaxis="x", yaxis="y2", zmin=0, zmax=1, hoverinfo="skip",
    colorscale=[[0, "#B8DCE9"], [0.04, "#B1D8E6"], [0.5, "#E88F97"], [1, "#FF0000"]],
    colorbar=dict(x=px(2105), xanchor="left", y=py(762), yanchor="middle", lenmode="pixels", len=80, thickness=30,
                  xpad=0, ypad=0, outlinewidth=0, tickvals=[0, 0.5, 1], ticktext=["0", "0.5", "1"], ticks="",
                  tickfont=dict(family=FONT, size=27))))
text(2100, 694, "Genomic Status", size=27, bold=True)

# ---- dendrogram ----
dx, dy = [], []
for x0, t, b in DENDRO_BRACKETS:
    dx += [140, x0, x0, 140, None]
    dy += [t, t, b, b, None]
fig.add_trace(go.Scatter(x=dx, y=dy, xaxis="x6", yaxis="y6", mode="lines", line=dict(color="black", width=1.6), hoverinfo="skip", showlegend=False))
fig.add_trace(go.Scatter(x=DENDRO_TRUNK_X, y=DENDRO_TRUNK_Y, xaxis="x6", yaxis="y6", mode="lines", line=dict(color="black", width=8), hoverinfo="skip", showlegend=False))

# ---- annotation legends ----
LEGENDS = [
    ("Cluster", 104, ["1", "2"], [PURPLE, ORANGE]),
    ("BRCA1", 209, ["Mut", "Wt"], ["#00008B", "#E0606A"]),
    ("BRCA2", 314, ["Mut", "Wt"], ["#FFC0CB", "#ADD8E6"]),
    ("Gender", 418, ["FEMALE", "MALE"], ["#FFC0CB", "#ADD8E6"]),
    ("Stage_Event", 568, ["Alive", "Dead"], ["#00FF00", RED]),
    ("Stage_T", 744, ["T1", "T2", "T3", "T4", "T5", "TX"], [GREEN, AQUA, CORAL, RED, DARK, BLACK]),
    ("Stage_N", 858, ["N0", "N1", "N2", "N3", "NX"], [GREEN, AQUA, CORAL, RED, DARK]),
    ("Stage_M", 978, ["M0", "M1", "MX"], [AQUA, CORAL, RED]),
    ("Stage", 1105, ["I", "II", "III", "IV", "X"], [GREEN, AQUA, CORAL, RED, BLACK]),
    ("Age", 1180, ["&lt;=60", "&gt;60"], [AQUA, CORAL]),
    ("ER", 1290, ["Indeterminate", "Negative", "Not_Evaluated", "Positive"], [GREEN, AQUA, CORAL, RED]),
    ("PR", 1511, ["Indeterminate", "Negative", "Not_Evaluated", "Positive"], [GREEN, AQUA, CORAL, RED]),
    ("HER2", 1737, ["Negative", "Not_Available", "Positive"], [GREEN, AQUA, CORAL]),
    ("TNBC", 1941, ["Non", "Not_Available", "Yes"], [GREEN, AQUA, CORAL]),
]
for title, x, labels, cols in LEGENDS:
    text(x, 1487, title, size=27, bold=True)
    for k, (lab, col) in enumerate(zip(labels, cols)):
        rect(x, 1507 + 26 * k, x + 24, 1531 + 26 * k, col)
        text(x + 32, 1519 + 26 * k, lab, size=27)

# ---- panel letters ----
for letter, x, y in [("A", 3, 37), ("B", 2333, 37), ("C", 2948, 37), ("D", 2409, 782), ("E", 2939, 820)]:
    text(x, y, letter, size=62, bold=True)

# ---- pie ----
fig.add_trace(go.Pie(labels=PIE_LABELS, values=PIE_VALUES, sort=False, direction="clockwise", rotation=-34.2,
                     marker=dict(colors=[PURPLE, ORANGE], line=dict(color="black", width=2.5)), textinfo="none",
                     showlegend=False, hoverinfo="skip", domain=dict(x=[px(2527), px(2911)], y=[py(537), py(153)])))
text(2848, 139, "34.5%", size=35, anchor="center")
text(2630, 624, "65.5%", size=35, anchor="center")
shapes.append(dict(type="line", xref="paper", yref="paper", x0=px(2800), x1=px(2807), y0=py(176), y1=py(164), line=dict(color="black", width=2)))
shapes.append(dict(type="line", xref="paper", yref="paper", x0=px(2608), x1=px(2614), y0=py(572), y1=py(586), line=dict(color="black", width=2)))
rect(2384, 92, 2595, 182, "rgba(0,0,0,0)", "black", 2.5)
for k, (lab, col) in enumerate(zip(PIE_LABELS, [PURPLE, ORANGE])):
    rect(2401, 104 + 35 * k, 2437, 131 + 35 * k, col, "black", 1.5)
    text(2450, 118 + 35 * k, lab, size=35)

# ---- survival ----
def on_curve(ts, xs, ys):
    idx = np.searchsorted(xs, ts, side="right") - 1
    return [ys[i] for i in idx]


fig.add_trace(go.Scatter(x=C1_T, y=C1_S, xaxis="x3", yaxis="y3", mode="lines", line=dict(color=PURPLE, width=5), showlegend=False, hoverinfo="skip"))
fig.add_trace(go.Scatter(x=C1_CENSOR, y=on_curve(C1_CENSOR, C1_T, C1_S), xaxis="x3", yaxis="y3", mode="markers",
                         marker=dict(symbol="cross-thin", size=13, line=dict(color=PURPLE, width=2)), showlegend=False, hoverinfo="skip"))
fig.add_trace(go.Scatter(x=C2_T, y=C2_S, xaxis="x3", yaxis="y3", mode="lines", line=dict(color=ORANGE, width=5, shape="hv", dash="8px,8px"), showlegend=False, hoverinfo="skip"))
fig.add_trace(go.Scatter(x=C2_CENSOR, y=on_curve(C2_CENSOR, C2_T, C2_S), xaxis="x3", yaxis="y3", mode="markers",
                         marker=dict(symbol="cross-thin", size=13, line=dict(color=ORANGE, width=2)), showlegend=False, hoverinfo="skip"))
text(3206, 44, "Types", size=26)
rect(3293, 43, 3316, 47, PURPLE)
rect(3304, 38, 3306, 50, PURPLE)
text(3328, 44, "Cluster1", size=26)
rect(3445, 43, 3467, 47, ORANGE)
rect(3455, 38, 3457, 50, ORANGE)
text(3479, 44, "Cluster2", size=26)
text(2992, 329, "Survival probability (%)", size=26, anchor="center", angle=-90)
text(3112, 492, "p &lt; 0.001", size=26)
text(3440, 627, "Time (day)", size=26, anchor="center")
text(3067, 660, "Number at risk", size=26)
text(3056, 709, "Cluster1", size=26, anchor="right", color=PURPLE)
text(3056, 746, "Cluster2", size=26, anchor="right", color=ORANGE)
text(3442, 818, "Time (day)", size=26, anchor="center")

for risk, y in [(RISK_C1, 2), (RISK_C2, 1)]:
    fig.add_trace(go.Scatter(x=TICK_TIME, y=[y] * 5, text=[str(v) for v in risk], mode="text", xaxis="x4", yaxis="y4",
                             textfont=dict(family=FONT, size=26, color="black"), textposition="middle center",
                             showlegend=False, hoverinfo="skip"))

# ---- radar ----
CX, CY = 2632, 1295
ANGLES = [90, 210, 330]
SCALES = [(4.87, 91.4), (-12.5, 1.944), (0.02, 875.0)]


def radius(axis, v):
    lo, k = SCALES[axis]
    return (v - lo) * k


def polar(axis, r):
    a = math.radians(ANGLES[axis])
    return CX + r * math.cos(a), CY - r * math.sin(a)


for vals, col in [(RADAR_C1, "rgba(49,44,140,0.55)"), (RADAR_C2, "rgba(255,165,0,0.75)")]:
    pts = [polar(i, radius(i, v)) for i, v in enumerate(vals)]
    pts.append(pts[0])
    fig.add_trace(go.Scatter(x=[p[0] for p in pts], y=[p[1] for p in pts], xaxis="x6", yaxis="y6", mode="lines", fill="toself",
                             fillcolor=col, line=dict(width=0), showlegend=False, hoverinfo="skip"))
ARROW_LEN = 464
for i, name in enumerate(RADAR_AXES):
    ex, ey = polar(i, ARROW_LEN)
    annotations.append(dict(x=ex, y=ey, ax=CX, ay=CY, xref="x6", yref="y6", axref="x6", ayref="y6", text="", showarrow=True,
                            arrowhead=2, arrowsize=1, arrowwidth=2, arrowcolor="black"))
text(2632, 810, "MSI burden", size=22, anchor="center")
text(2236, 1538, "mTMB", size=22, anchor="center")
text(3022, 1546, "SCNA burden", size=22, anchor="center")
for i, (ticks, labs) in enumerate(zip(RADAR_TICKS, RADAR_TICK_LABELS)):
    xs, ys = [], []
    for v in ticks:
        x, y = polar(i, radius(i, v))
        if i == 0:
            xs.append(x - 15)
            ys.append(y)
        elif i == 1:
            xs.append(x - 22)
            ys.append(y - 7)
        else:
            xs.append(x + 7)
            ys.append(y - 12)
    fig.add_trace(go.Scatter(x=xs, y=ys, text=labs, mode="text", xaxis="x6", yaxis="y6", textfont=dict(family=FONT, size=22, color="black"),
                             showlegend=False, hoverinfo="skip"))
for k, (lab, col) in enumerate([("Cluster 1", "rgba(49,44,140,0.55)"), ("Cluster 2", "rgba(255,165,0,0.75)")]):
    rect(2301, 1028 + 70 * k, 2345, 1071 + 70 * k, col)
    text(2381, 1050 + 70 * k, lab, size=22)

# ---- box ----
for i, col in enumerate([PURPLE, ORANGE]):
    fig.add_trace(go.Box(x=[BOX_X[i]], q1=[BOX_Q1[i]], median=[BOX_MED[i]], q3=[BOX_Q3[i]], lowerfence=[BOX_LOW[i]], upperfence=[BOX_HIGH[i]],
                         xaxis="x5", yaxis="y5", width=0.7, whiskerwidth=0, fillcolor=col, line=dict(color="black", width=2.5),
                         showlegend=False, hoverinfo="skip"))
    fig.add_trace(go.Scatter(x=[BOX_X[i] - 0.35, BOX_X[i] + 0.35], y=[BOX_MED[i]] * 2, xaxis="x5", yaxis="y5", mode="lines",
                             line=dict(color="black", width=6), showlegend=False, hoverinfo="skip"))
fig.add_trace(go.Scatter(x=[1, 1, 2, 2], y=[410, 423, 423, 410], xaxis="x5", yaxis="y5", mode="lines", line=dict(color="black", width=2), showlegend=False, hoverinfo="skip"))
text(3482, 962, "***", size=34, anchor="center", bold=True)
text(2986, 1196, "mTMB burden", size=44, anchor="center", angle=-90)
text(3525, 1576, "Clusters", size=42, anchor="center")


AXFONT = dict(family=FONT, size=26, color="black")
hidden = dict(visible=False, showgrid=False, zeroline=False)


def line_axis(**kw):
    d = dict(showline=True, linecolor="black", linewidth=3, ticks="outside", ticklen=6, tickwidth=3, tickcolor="black",
             showgrid=False, zeroline=False, tickfont=AXFONT)
    d.update(kw)
    return d


fig.update_layout(
    width=W, height=H, autosize=False, margin=dict(l=0, r=0, t=0, b=0), paper_bgcolor="white", plot_bgcolor="rgba(0,0,0,0)",
    font=dict(family=FONT, color="black"), showlegend=False, annotations=annotations, shapes=shapes,
    xaxis=dict(domain=[px(146), px(2091)], range=[0, N_SAMPLES], **hidden),
    yaxis=dict(domain=[py(579), py(41)], range=[579, 41], **hidden),
    yaxis2=dict(domain=[py(1466), py(583)], range=[N_ROWS - 0.5, -0.5], **hidden),
    xaxis3=line_axis(domain=[px(3066), px(3794)], range=[-400, 8400], tickvals=TICK_TIME, anchor="y3", ticklabelstandoff=-5),
    yaxis3=line_axis(domain=[py(575), py(68)], range=[-5.2, 104.9], tickvals=TICK_SURV, anchor="x3"),
    xaxis4=line_axis(domain=[px(3066), px(3794)], range=[-400, 8400], tickvals=TICK_TIME, anchor="y4", ticklabelstandoff=-5),
    yaxis4=line_axis(domain=[py(768), py(687)], range=[0.405, 2.595], tickvals=[1, 2], ticktext=["", ""], anchor="x4"),
    xaxis5=line_axis(domain=[px(3118), px(3798)], range=[0.18, 2.68], tickvals=BOX_X, tickfont=dict(family=FONT, size=40, color="black"), anchor="y5", ticklabelstandoff=-14),
    yaxis5=line_axis(domain=[py(1507), py(875)], range=[-28, 526], tickvals=TICK_MTMB, tickfont=dict(family=FONT, size=40, color="black"), anchor="x5"),
    xaxis6=dict(domain=[0, 1], range=[0, W], anchor="y6", **hidden),
    yaxis6=dict(domain=[0, 1], range=[H, 0], anchor="x6", **hidden),
)
fig.write_html("out.html", config={"displayModeBar": False}, post_script="document.body.style.margin='0';")
